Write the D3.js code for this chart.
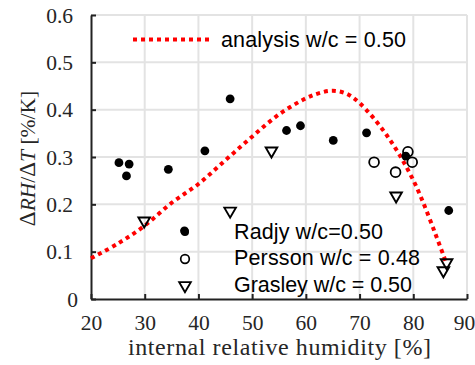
<!DOCTYPE html>
<html lang="en">
<head>
    <meta charset="UTF-8">
    <title>Delta RH / Delta T</title>
    <script src="https://cdn.jsdelivr.net/npm/d3@7"></script>
    <style>
        body { margin: 0; background: #fff; }
        .serif { font-family: "Liberation Serif", "DejaVu Serif", serif; }
        .sans { font-family: "Liberation Sans", Arial, sans-serif; }
    </style>
</head>
<body>
<div id="chart"></div>
<script>
    // analysis curve w/c = 0.50
    const analysisX = [20, 25, 30, 35, 40, 45, 50, 55, 60, 62.5, 65, 67.5, 70, 75, 80, 85, 86];
    const analysisY = [0.086, 0.117, 0.155, 0.203, 0.243, 0.293, 0.343, 0.390, 0.424, 0.435, 0.440, 0.434, 0.414, 0.347, 0.251, 0.111, 0.080];

    // measurements
    const radjyX = [25.2, 27.1, 26.6, 34.4, 41.2, 37.4, 45.9, 56.4, 59.0, 65.1, 71.3, 78.6, 86.6];
    const radjyY = [0.288, 0.285, 0.260, 0.274, 0.313, 0.144, 0.423, 0.356, 0.366, 0.335, 0.351, 0.302, 0.187];
    const perssonX = [72.7, 76.7, 79.0, 79.8];
    const perssonY = [0.289, 0.268, 0.311, 0.289];
    const grasleyX = [29.9, 45.9, 53.6, 76.8, 86.2, 85.6];
    const grasleyY = [0.165, 0.186, 0.313, 0.218, 0.077, 0.060];

    const xTicks = [20, 30, 40, 50, 60, 70, 80, 90];
    const yTicks = [0, 0.1, 0.2, 0.3, 0.4, 0.5, 0.6];

    const width = 475, height = 365;
    const mLeft = 91, mRight = 467, mTop = 15, mBottom = 299;

    const x = d3.scaleLinear().domain([20, 90]).range([mLeft, mRight]);
    const y = d3.scaleLinear().domain([0, 0.6]).range([mBottom, mTop]);

    const svg = d3.select("#chart").append("svg")
        .attr("width", width)
        .attr("height", height);

    // grid
    const grid = svg.append("g").attr("stroke", "#e3e3e3").attr("stroke-width", 2);
    grid.selectAll(".gx").data(xTicks.slice(1)).join("line")
        .attr("x1", d => x(d)).attr("x2", d => x(d))
        .attr("y1", mTop).attr("y2", mBottom);
    grid.selectAll(".gy").data(yTicks.slice(1)).join("line")
        .attr("x1", mLeft).attr("x2", mRight)
        .attr("y1", d => y(d)).attr("y2", d => y(d));

    // axes
    const xAxis = svg.append("g")
        .attr("transform", `translate(0,${mBottom})`)
        .call(d3.axisBottom(x).tickValues(xTicks).tickSizeInner(-5).tickSizeOuter(0));
    const yAxis = svg.append("g")
        .attr("transform", `translate(${mLeft},0)`)
        .call(d3.axisLeft(y).tickValues(yTicks).tickSizeInner(-5).tickSizeOuter(0)
            .tickFormat(d => d === 0 ? "0" : d3.format(".1f")(d)));

    [xAxis, yAxis].forEach(a => {
        a.select(".domain").attr("stroke", "#222").attr("stroke-width", 2);
        a.selectAll(".tick line").attr("stroke", "#222").attr("stroke-width", 2);
        a.selectAll("text").attr("class", "serif").attr("font-size", 21.5)
            .attr("fill", "#262626");
    });
    xAxis.selectAll("text").attr("y", 30.5).attr("dy", 0)
        .attr("x", d => d === 90 ? -3 : 0);
    yAxis.selectAll("text").attr("x", d => d === 0 ? -13 : -18).attr("dy", "0.33em");

    // analysis line
    const line = d3.line()
        .x((d, i) => x(analysisX[i]))
        .y((d, i) => y(analysisY[i]))
        .curve(d3.curveCatmullRom);
    svg.append("path")
        .datum(analysisX)
        .attr("d", line)
        .attr("fill", "none")
        .attr("stroke", "#ff0000")
        .attr("stroke-width", 4)
        .attr("stroke-dasharray", "4,4");

    // markers
    const tri = d3.symbol().type(d3.symbolTriangle).size(58);
    svg.selectAll(".radjy").data(radjyX).join("circle")
        .attr("cx", d => x(d)).attr("cy", (d, i) => y(radjyY[i]))
        .attr("r", 4.4).attr("fill", "#000");
    svg.selectAll(".persson").data(perssonX).join("circle")
        .attr("cx", d => x(d)).attr("cy", (d, i) => y(perssonY[i]))
        .attr("r", 4.9).attr("fill", "none").attr("stroke", "#000").attr("stroke-width", 1.8);
    svg.selectAll(".grasley").data(grasleyX).join("path")
        .attr("d", tri)
        .attr("transform", (d, i) => `translate(${x(d)},${y(grasleyY[i])}) rotate(180)`)
        .attr("fill", "none").attr("stroke", "#000").attr("stroke-width", 1.9);

    // legend top
    svg.append("line")
        .attr("x1", 133).attr("x2", 213).attr("y1", 39.5).attr("y2", 39.5)
        .attr("stroke", "#ff0000").attr("stroke-width", 4).attr("stroke-dasharray", "4,4");
    svg.append("text").attr("class", "sans")
        .attr("x", 221).attr("y", 47).attr("font-size", 21.5)
        .attr("textLength", 185).attr("lengthAdjust", "spacing")
        .text("analysis w/c = 0.50");

    // legend bottom
    const lg = svg.append("g");
    lg.append("circle").attr("cx", 185).attr("cy", 232).attr("r", 4).attr("fill", "#000");
    lg.append("circle").attr("cx", 185).attr("cy", 259).attr("r", 4.3)
        .attr("fill", "none").attr("stroke", "#000").attr("stroke-width", 1.7);
    lg.append("path").attr("d", tri)
        .attr("transform", "translate(185,285.5) rotate(180)")
        .attr("fill", "none").attr("stroke", "#000").attr("stroke-width", 1.9);
    const labels = ["Radjy w/c=0.50", "Persson w/c = 0.48", "Grasley w/c = 0.50"];
    const labelLen = [149, 186, 178];
    lg.selectAll("text").data(labels).join("text")
        .attr("class", "sans")
        .attr("x", 234).attr("y", (d, i) => 239 + i * 26.3)
        .attr("font-size", 21.5)
        .attr("textLength", (d, i) => labelLen[i]).attr("lengthAdjust", "spacing")
        .text(d => d);

    // axis titles
    svg.append("text").attr("class", "serif")
        .attr("x", 128).attr("y", 355)
        .attr("font-size", 24).attr("fill", "#262626")
        .attr("textLength", 303).attr("lengthAdjust", "spacing")
        .text("internal relative humidity [%]");

    const yl = svg.append("text").attr("class", "serif")
        .attr("transform", "translate(35,158.5) rotate(-90)")
        .attr("text-anchor", "middle")
        .attr("font-size", 21.5).attr("fill", "#262626");
    yl.append("tspan").attr("font-size", 23).text("\u0394");
    yl.append("tspan").attr("font-style", "italic").text("RH");
    yl.append("tspan").text("/");
    yl.append("tspan").attr("font-size", 23).text("\u0394");
    yl.append("tspan").attr("font-style", "italic").text("T");
    yl.append("tspan").text(" [%/K]");
</script>
</body>
</html>
